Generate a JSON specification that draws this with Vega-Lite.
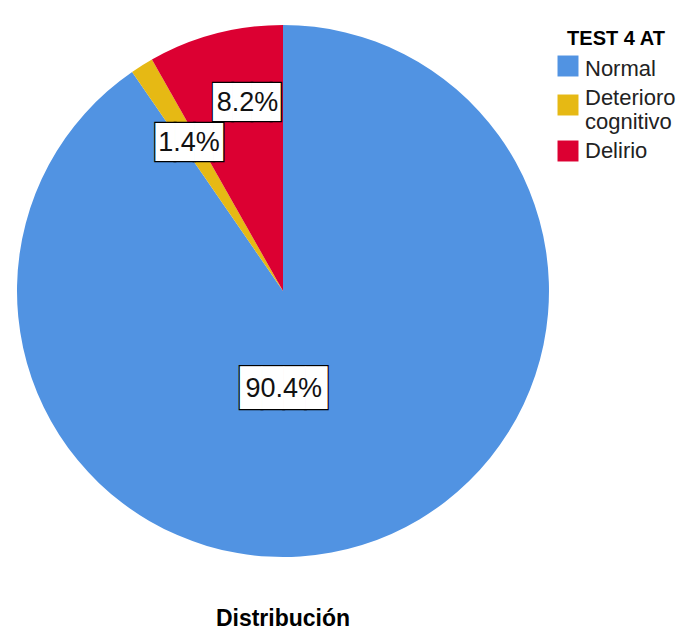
{
  "$schema": "https://vega.github.io/schema/vega-lite/v6.json",
  "width": 566,
  "height": 582,
  "padding": 0,
  "background": "white",
  "config": {"view": {"stroke": null}, "font": "Liberation Sans"},
  "title": {"text": "Distribución", "orient": "bottom", "anchor": "middle", "fontSize": 23, "fontWeight": "bold", "font": "Liberation Sans", "color": "#000000", "offset": 26},
  "data": {"values": [
    {"cat": "Normal", "pct": 0.904, "orden": 1},
    {"cat": "Deterioro cognitivo", "pct": 0.014, "orden": 2},
    {"cat": "Delirio", "pct": 0.082, "orden": 3}
  ]},
  "encoding": {
    "theta": {"field": "pct", "type": "quantitative", "stack": true},
    "order": {"field": "orden", "type": "quantitative"}
  },
  "layer": [
    {
      "mark": {"type": "arc", "radius": 266},
      "encoding": {
        "color": {
          "field": "cat", "type": "nominal",
          "scale": {"domain": ["Normal", "Deterioro cognitivo", "Delirio"], "range": ["#5193e2", "#e6b914", "#dc0032"]},
          "legend": {
            "title": "TEST 4 AT", "orient": "none", "legendX": 557, "legendY": 29,
            "titleFont": "Liberation Sans", "titleFontSize": 20, "titleFontWeight": "bold", "titleColor": "#000000",
            "titleAnchor": "middle", "titlePadding": 6,
            "symbolType": "square", "symbolSize": 440, "symbolStrokeWidth": 0, "symbolOpacity": 1,
            "labelFont": "Liberation Sans", "labelFontSize": 22, "labelColor": "#222222", "labelOffset": 6, "labelLimit": 200,
            "rowPadding": 7,
            "labelExpr": "datum.label === 'Deterioro cognitivo' ? ['Deterioro', 'cognitivo'] : datum.label",
            "encode": {
              "labels": {"update": {"dy": {"signal": "datum.value === 'Deterioro cognitivo' ? -7 : (datum.value === 'Normal' ? 3 : 0)"}}}
            }
          }
        }
      }
    },
    {
      "mark": {"type": "text", "radius": 100, "dx": -29, "dy": 3, "font": "DejaVu Sans Mono", "fontSize": 36, "fill": "white", "stroke": "black", "strokeWidth": 2.4, "baseline": "middle", "align": "center"},
      "encoding": {"text": {"condition": {"test": "datum.cat === 'Normal'", "value": "████"}, "value": ""}}
    },
    {
      "mark": {"type": "text", "radius": 100, "dx": -29, "dy": 3, "font": "DejaVu Sans Mono", "fontSize": 36, "fill": "white", "baseline": "middle", "align": "center"},
      "encoding": {"text": {"condition": {"test": "datum.cat === 'Normal'", "value": "████"}, "value": ""}}
    },
    {
      "mark": {"type": "text", "radius": 100, "dx": -29, "dy": 3, "fontSize": 27, "fill": "#111111", "baseline": "middle", "align": "center"},
      "encoding": {"text": {"condition": {"test": "datum.cat === 'Normal'", "field": "pct", "format": ".1%"}, "value": ""}}
    },
    {
      "mark": {"type": "text", "radius": 177, "dx": 5, "dy": 2, "font": "DejaVu Sans Mono", "fontSize": 32, "fill": "white", "stroke": "black", "strokeWidth": 2.4, "baseline": "middle", "align": "center"},
      "encoding": {"text": {"condition": {"test": "datum.cat === 'Deterioro cognitivo'", "value": "███▌"}, "value": ""}}
    },
    {
      "mark": {"type": "text", "radius": 177, "dx": 5, "dy": 2, "font": "DejaVu Sans Mono", "fontSize": 32, "fill": "white", "baseline": "middle", "align": "center"},
      "encoding": {"text": {"condition": {"test": "datum.cat === 'Deterioro cognitivo'", "value": "███▌"}, "value": ""}}
    },
    {
      "mark": {"type": "text", "radius": 177, "dx": 0, "dy": 2, "fontSize": 27, "fill": "#111111", "baseline": "middle", "align": "center"},
      "encoding": {"text": {"condition": {"test": "datum.cat === 'Deterioro cognitivo'", "field": "pct", "format": ".1%"}, "value": ""}}
    },
    {
      "mark": {"type": "text", "radius": 194, "dx": 18, "font": "DejaVu Sans Mono", "fontSize": 32, "fill": "white", "stroke": "black", "strokeWidth": 2.4, "baseline": "middle", "align": "center"},
      "encoding": {"text": {"condition": {"test": "datum.cat === 'Delirio'", "value": "███▌"}, "value": ""}}
    },
    {
      "mark": {"type": "text", "radius": 194, "dx": 18, "font": "DejaVu Sans Mono", "fontSize": 32, "fill": "white", "baseline": "middle", "align": "center"},
      "encoding": {"text": {"condition": {"test": "datum.cat === 'Delirio'", "value": "███▌"}, "value": ""}}
    },
    {
      "mark": {"type": "text", "radius": 194, "dx": 14, "fontSize": 27, "fill": "#111111", "baseline": "middle", "align": "center"},
      "encoding": {"text": {"condition": {"test": "datum.cat === 'Delirio'", "field": "pct", "format": ".1%"}, "value": ""}}
    }
  ]
}
